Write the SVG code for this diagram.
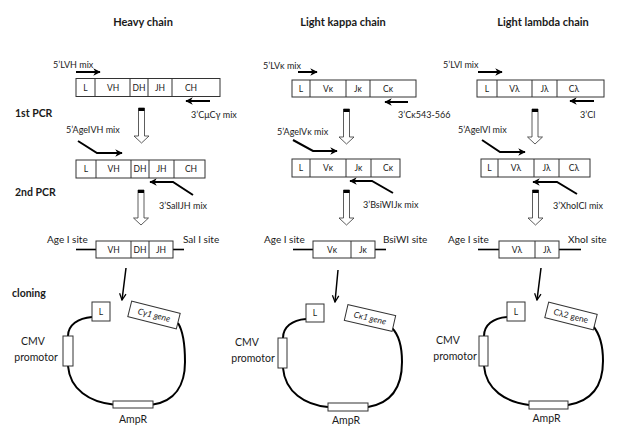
<svg xmlns="http://www.w3.org/2000/svg" width="618" height="434" viewBox="0 0 618 434">
<style>
.t{font-family:Lato,"Noto Sans","DejaVu Sans",sans-serif;fill:#1a1a1a}
.title{font-size:11px;font-weight:bold;text-anchor:middle}
.step{font-size:10.5px;font-weight:bold}
.lbl{font-size:9px}
.seg{font-size:8.5px;text-anchor:middle}
.site{font-size:10px}
.pl{font-size:10.5px;text-anchor:middle}
.gene{font-size:8.5px;text-anchor:middle}
.box{fill:#fff;stroke:#333;stroke-width:1}
.primer{stroke:#000;stroke-width:2;fill:none;marker-end:url(#ah)}
.clone{stroke:#000;stroke-width:1.5;fill:none;marker-end:url(#av)}
.hollow{fill:#fff;stroke:#333;stroke-width:0.8}
.dna{stroke:#000;stroke-width:1.6}
.plasmid{fill:none;stroke:#000;stroke-width:2}
</style>
<defs>
<marker id="ah" viewBox="0 0 10 10" refX="9" refY="5" markerWidth="9" markerHeight="7.5" orient="auto" markerUnits="userSpaceOnUse"><path d="M0,0 L10,5 L0,10 L3,5 Z" fill="#000"/></marker>
<marker id="av" viewBox="0 0 10 10" refX="9" refY="5" markerWidth="8" markerHeight="9" orient="auto" markerUnits="userSpaceOnUse"><path d="M1,1 L9,5 L1,9" fill="none" stroke="#000" stroke-width="1.6"/></marker>
<g id="hollow"><path class="hollow" d="M-3,0 H3 V28 H7.5 L0,35 L-7.5,28 H-3 Z"/><rect x="-3" y="0" width="6" height="3" fill="#000"/></g>
</defs>
<rect width="618" height="434" fill="#fff"/>

<g id="titles">
<text class="t title" x="143" y="26">Heavy chain</text>
<text class="t title" x="343" y="26">Light kappa chain</text>
<text class="t title" x="543" y="26">Light lambda chain</text>
</g>
<g id="steps">
<text class="t step" x="15" y="117">1st PCR</text>
<text class="t step" x="15" y="196">2nd PCR</text>
<text class="t step" x="12" y="297">cloning</text>
</g>

<g id="connectors">
<!-- heavy -->
<line class="primer" x1="76" y1="72" x2="100" y2="72"/>
<line class="primer" x1="210" y1="101" x2="186" y2="101"/>
<polyline class="primer" points="78,141 97,153 122,153"/>
<polyline class="primer" points="193,195 173,182 150,182"/>
<use href="#hollow" x="141.5" y="108"/>
<use href="#hollow" x="141" y="190"/>
<line class="clone" x1="126" y1="268" x2="122" y2="300"/>
<!-- kappa -->
<line class="primer" x1="298" y1="72" x2="317" y2="72"/>
<line class="primer" x1="408" y1="102" x2="385" y2="102"/>
<polyline class="primer" points="293,140 313,151 337,151"/>
<polyline class="primer" points="393,193 372,181 350,181"/>
<use href="#hollow" x="346.5" y="109"/>
<use href="#hollow" x="346.5" y="190"/>
<line class="clone" x1="338" y1="270" x2="335" y2="302"/>
<!-- lambda -->
<line class="primer" x1="478" y1="72" x2="502" y2="72"/>
<line class="primer" x1="594" y1="101" x2="570" y2="101"/>
<polyline class="primer" points="482,140 500,152 525,152"/>
<polyline class="primer" points="577,194 557,182 533,182"/>
<use href="#hollow" x="535" y="109"/>
<use href="#hollow" x="535.5" y="190"/>
<line class="clone" x1="541" y1="268" x2="537" y2="300"/>
</g>

<g id="primer-labels">
<text class="t lbl" x="53" y="68">5’LVH mix</text>
<text class="t lbl" x="191" y="118">3’CμCγ mix</text>
<text class="t lbl" x="66" y="133">5’AgeIVH mix</text>
<text class="t lbl" x="159" y="209">3’SalIJH mix</text>
<text class="t lbl" x="263" y="69">5’LVκ mix</text>
<text class="t lbl" x="398" y="118">3’Cκ543-566</text>
<text class="t lbl" x="277" y="135">5’AgelVκ mix</text>
<text class="t lbl" x="363" y="208">3’BsiWIJκ mix</text>
<text class="t lbl" x="443" y="68">5’LVl mix</text>
<text class="t lbl" x="580" y="118">3’Cl</text>
<text class="t lbl" x="458" y="133">5’AgelVl mix</text>
<text class="t lbl" x="553" y="209">3’XhoICl mix</text>
</g>

<g id="heavy-row1">
<rect class="box" x="76" y="78.5" width="144" height="18"/>
<path class="box" d="M95,78.5V96.5M130,78.5V96.5M148,78.5V96.5M172,78.5V96.5"/>
<text class="t seg" x="85.5" y="90.5">L</text><text class="t seg" x="113" y="90.5">VH</text><text class="t seg" x="139" y="90.5">DH</text><text class="t seg" x="160" y="90.5">JH</text><text class="t seg" x="191" y="90.5">CH</text>
</g>
<g id="heavy-row2">
<rect class="box" x="76" y="160" width="129" height="18"/>
<path class="box" d="M96,160V178M131,160V178M149,160V178M174,160V178"/>
<text class="t seg" x="86" y="172">L</text><text class="t seg" x="113.5" y="172">VH</text><text class="t seg" x="140" y="172">DH</text><text class="t seg" x="161.5" y="172">JH</text><text class="t seg" x="191" y="172">CH</text>
</g>
<g id="heavy-insert">
<line class="dna" x1="76" y1="249.5" x2="96" y2="249.5"/><line class="dna" x1="173" y1="249.5" x2="184" y2="249.5"/>
<rect class="box" x="96" y="241" width="77" height="17"/>
<path class="box" d="M131,241V258M149,241V258"/>
<text class="t seg" x="113.5" y="252.5">VH</text><text class="t seg" x="140" y="252.5">DH</text><text class="t seg" x="161" y="252.5">JH</text>
<text class="t site" x="47" y="243">Age I site</text><text class="t site" x="183" y="243">Sal I site</text>
</g>
<g id="heavy-plasmid">
<path class="plasmid" d="M92,317 C78,318 68,325 68,336 M68,366 C70,390 90,402 113,404.5 M153,404.5 C175,401 185,385 185,362 C185,342 183,331 178,323"/>
<rect class="box" x="92" y="302" width="18" height="19"/><text class="t gene" x="101" y="314.5">L</text>
<g transform="rotate(14 154 315)"><rect class="box" x="129" y="307" width="50" height="16"/><text class="t gene" x="154" y="318" font-style="italic">Cγ1 gene</text></g>
<rect class="box" x="63" y="336" width="10" height="30"/>
<rect class="box" x="113" y="401" width="40" height="7"/>
<text class="t pl" x="33" y="345">CMV</text><text class="t pl" x="36" y="361">promotor</text>
<text class="t pl" x="133" y="423">AmpR</text>
</g>

<g id="kappa-row1">
<rect class="box" x="292" y="80" width="124" height="17"/>
<path class="box" d="M310,80V97M346,80V97M370,80V97"/>
<text class="t seg" x="301" y="91.5">L</text><text class="t seg" x="328" y="91.5">Vκ</text><text class="t seg" x="358" y="91.5">Jκ</text><text class="t seg" x="388" y="91.5">Cκ</text>
</g>
<g id="kappa-row2">
<rect class="box" x="292" y="159" width="108" height="18"/>
<path class="box" d="M310,159V177M346,159V177M371,159V177"/>
<text class="t seg" x="301" y="171">L</text><text class="t seg" x="328" y="171">Vκ</text><text class="t seg" x="358.5" y="171">Jκ</text><text class="t seg" x="388" y="171">Cκ</text>
</g>
<g id="kappa-insert">
<line class="dna" x1="293" y1="249.5" x2="313" y2="249.5"/><line class="dna" x1="375" y1="249.5" x2="386" y2="249.5"/>
<rect class="box" x="313" y="241" width="62" height="17"/>
<path class="box" d="M351,241V258"/>
<text class="t seg" x="332" y="252.5">Vκ</text><text class="t seg" x="363" y="252.5">Jκ</text>
<text class="t site" x="264" y="243">Age I site</text><text class="t site" x="383" y="243">BsiWI site</text>
</g>
<g id="kappa-plasmid">
<path class="plasmid" d="M306,319 C292,320 283,327 283,338 M283,368 C285,392 305,405 328,407 M368,407 C392,403 402,386 402,362 C402,344 398,334 392,328"/>
<rect class="box" x="306" y="304" width="18" height="18"/><text class="t gene" x="315" y="316">L</text>
<g transform="rotate(13 370 318)"><rect class="box" x="345.5" y="310" width="49" height="16"/><text class="t gene" x="370" y="321" font-style="italic">Cκ1 gene</text></g>
<rect class="box" x="278" y="338" width="9" height="30"/>
<rect class="box" x="328" y="403" width="40" height="8"/>
<text class="t pl" x="247" y="346">CMV</text><text class="t pl" x="253" y="362">promotor</text>
<text class="t pl" x="346" y="424">AmpR</text>
</g>

<g id="lambda-row1">
<rect class="box" x="477" y="80" width="127" height="17"/>
<path class="box" d="M497,80V97M532,80V97M557,80V97"/>
<text class="t seg" x="487" y="91.5">L</text><text class="t seg" x="514.5" y="91.5">Vλ</text><text class="t seg" x="544.5" y="91.5">Jλ</text><text class="t seg" x="574" y="91.5">Cλ</text>
</g>
<g id="lambda-row2">
<rect class="box" x="481" y="159" width="109" height="18"/>
<path class="box" d="M498,159V177M534,159V177M559,159V177"/>
<text class="t seg" x="489.5" y="171">L</text><text class="t seg" x="516" y="171">Vλ</text><text class="t seg" x="546.5" y="171">Jλ</text><text class="t seg" x="574" y="171">Cλ</text>
</g>
<g id="lambda-insert">
<line class="dna" x1="478" y1="249.5" x2="499" y2="249.5"/><line class="dna" x1="559" y1="249.5" x2="581" y2="249.5"/>
<rect class="box" x="499" y="241" width="60" height="17"/>
<path class="box" d="M535,241V258"/>
<text class="t seg" x="517" y="252.5">Vλ</text><text class="t seg" x="547" y="252.5">Jλ</text>
<text class="t site" x="448" y="243">Age I site</text><text class="t site" x="568" y="243">XhoI site</text>
</g>
<g id="lambda-plasmid">
<path class="plasmid" d="M507,317 C493,318 484,325 484,336 M484,366 C486,390 506,402 529,405 M568,405 C592,401 603,385 603,361 C603,343 599,333 593,326"/>
<rect class="box" x="507" y="302" width="18" height="19"/><text class="t gene" x="516" y="314.5">L</text>
<g transform="rotate(14 571 316)"><rect class="box" x="546" y="308" width="50" height="16"/><text class="t gene" x="571" y="319">Cλ2 gene</text></g>
<rect class="box" x="479" y="336" width="9" height="30"/>
<rect class="box" x="529" y="401" width="39" height="8"/>
<text class="t pl" x="448" y="344">CMV</text><text class="t pl" x="455" y="360">promotor</text>
<text class="t pl" x="546.5" y="422">AmpR</text>
</g>
</svg>
